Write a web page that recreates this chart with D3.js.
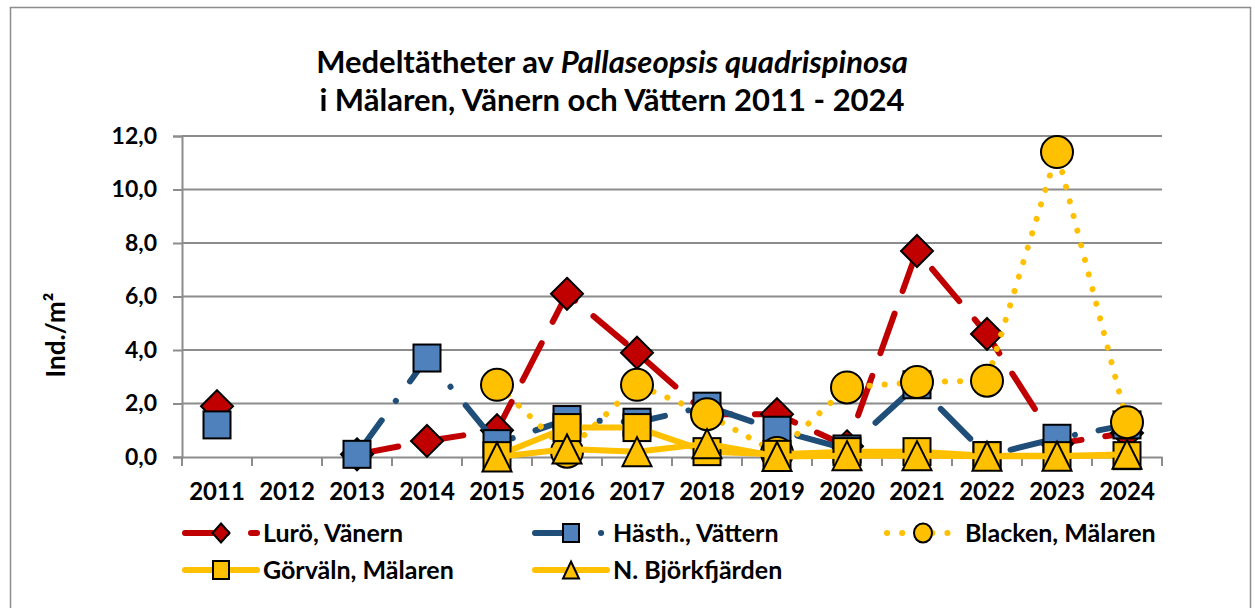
<!DOCTYPE html>
<html>
<head>
<meta charset="utf-8">
<script src="https://cdn.jsdelivr.net/npm/d3@7"></script>
<style>
  body { margin: 0; background: #fff; }
  svg { font-family: Lato, "Open Sans", sans-serif; font-weight: bold; }
</style>
</head>
<body>
<div id="chart"></div>
<script>
// data
var years = ["2011","2012","2013","2014","2015","2016","2017","2018","2019","2020","2021","2022","2023","2024"];
var luro    = [1.9, null, 0.1, 0.6, 1.0, 6.1, 3.9, 1.6, 1.6, 0.4, 7.7, 4.6, 0.5, 0.9];
var hasth   = [1.2, null, 0.1, 3.7, 0.5, 1.4, 1.3, 1.9, 1.0, 0.3, 2.7, 0.05, 0.7, 1.2];
var blacken = [null, null, null, null, 2.7, 0.2, 2.7, 1.6, 0.15, 2.6, 2.8, 2.85, 11.4, 1.3];
var gorvaln = [null, null, null, null, 0.05, 1.1, 1.1, 0.2, 0.1, 0.2, 0.2, 0.05, 0.05, 0.05];
var bjork   = [null, null, null, null, 0.0, 0.3, 0.2, 0.5, 0.02, 0.05, 0.05, 0.03, 0.03, 0.1];
var yTicks = [0, 2, 4, 6, 8, 10, 12];

var series = [
  {name: "Lurö, Vänern",      values: luro,    line: "#C00000", fill: "#C00000", marker: "diamond", dash: "42 24"},
  {name: "Hästh., Vättern",   values: hasth,   line: "#1F4E79", fill: "#4F81BD", marker: "square",  dash: "42 24 0.1 24"},
  {name: "Blacken, Mälaren",  values: blacken, line: "#FFC000", fill: "#FFC000", marker: "circle",  dash: "0.1 15"},
  {name: "Görväln, Mälaren",  values: gorvaln, line: "#FFC000", fill: "#FFC000", marker: "square",  dash: null},
  {name: "N. Björkfjärden",   values: bjork,   line: "#FFC000", fill: "#FFC000", marker: "triangle",dash: null}
];

var W = 1255, H = 608;
var margin = {top: 136, left: 182, right: 93, bottom: 151};
var width = W - margin.left - margin.right,
    height = H - margin.top - margin.bottom;

var svg = d3.select("#chart").append("svg")
    .attr("width", W)
    .attr("height", H);

// chart border
svg.append("rect")
    .attr("x", 10.5).attr("y", 7.5)
    .attr("width", 1240).attr("height", 640)
    .attr("fill", "none")
    .attr("stroke", "#8c8c8c")
    .attr("stroke-width", 1.5);

// title
var title = svg.append("text")
    .attr("x", 612)
    .attr("text-anchor", "middle")
    .attr("font-size", "31px");
var t1 = title.append("tspan").attr("x", 612).attr("y", 73);
t1.append("tspan").text("Medeltätheter av ");
t1.append("tspan").attr("font-style", "italic").text("Pallaseopsis quadrispinosa");
title.append("tspan").attr("x", 612).attr("y", 111).text("i Mälaren, Vänern och Vättern 2011 - 2024");

var g = svg.append("g")
    .attr("transform", "translate(" + margin.left + "," + margin.top + ")");

var x = d3.scaleBand().domain(years).range([0, width]).padding(0);
var y = d3.scaleLinear().domain([0, 12]).range([height, 0]);
var cx = function(i) { return x(years[i]) + x.bandwidth() / 2; };

// gridlines
g.append("g")
  .selectAll("line")
  .data(yTicks.filter(function(d) { return d > 0; }))
  .enter().append("line")
    .attr("x1", 0).attr("x2", width)
    .attr("y1", function(d) { return y(d); })
    .attr("y2", function(d) { return y(d); })
    .attr("stroke", "#8c8c8c")
    .attr("stroke-width", 2);

// y axis
var yAxis = g.append("g")
    .call(d3.axisLeft(y).tickValues(yTicks).tickSize(9).tickPadding(16)
      .tickFormat(function(d) { return d3.format(".1f")(d).replace(".", ","); }));
yAxis.select(".domain").attr("stroke", "#8c8c8c").attr("stroke-width", 2);
yAxis.selectAll(".tick line").attr("stroke", "#8c8c8c").attr("stroke-width", 2);
yAxis.selectAll("text").attr("font-size", "23px").attr("font-family", "Lato").attr("font-weight", "bold").attr("fill", "#000");

// x axis
var xAxis = g.append("g")
    .attr("transform", "translate(0," + height + ")")
    .call(d3.axisBottom(x).tickSize(0).tickPadding(26));
xAxis.select(".domain").attr("stroke", "#8c8c8c").attr("stroke-width", 2);
xAxis.selectAll("text").attr("font-size", "24px").attr("font-family", "Lato").attr("font-weight", "bold").attr("fill", "#000");
// category boundary ticks
var bounds = years.map(function(d) { return x(d); }).concat([width]);
xAxis.selectAll(".bound")
  .data(bounds)
  .enter().append("line")
    .attr("x1", function(d) { return d; })
    .attr("x2", function(d) { return d; })
    .attr("y1", 0).attr("y2", 9)
    .attr("stroke", "#8c8c8c")
    .attr("stroke-width", 2);

// y label
svg.append("text")
    .attr("transform", "translate(65,335) rotate(-90)")
    .attr("text-anchor", "middle")
    .attr("font-size", "26px")
    .text("Ind./m²");

// marker drawing
function drawMarker(sel, s, w, h) {
  var m;
  if (s.marker === "diamond") {
    m = sel.append("path").attr("d", "M0," + (-h/2) + "L" + (w/2) + ",0L0," + (h/2) + "L" + (-w/2) + ",0Z");
  } else if (s.marker === "square") {
    m = sel.append("rect").attr("x", -w/2).attr("y", -h/2).attr("width", w).attr("height", h);
  } else if (s.marker === "circle") {
    m = sel.append("ellipse").attr("rx", w/2).attr("ry", h/2);
  } else {
    m = sel.append("path").attr("d", "M0," + (-h/2) + "L" + (w/2) + "," + (h/2) + "L" + (-w/2) + "," + (h/2) + "Z");
  }
  m.attr("fill", s.fill).attr("stroke", "#000").attr("stroke-width", 2).attr("stroke-linejoin", "miter");
}

var markerSize = {diamond: [32, 32], square: [27, 27], circle: [32, 32], triangle: [29, 29]};

var line = d3.line()
    .defined(function(d) { return d != null; })
    .x(function(d, i) { return cx(i); })
    .y(function(d) { return y(d); });

series.forEach(function(s) {
  var sg = g.append("g");
  sg.append("path")
      .datum(s.values)
      .attr("d", line)
      .attr("fill", "none")
      .attr("stroke", s.line)
      .attr("stroke-width", 6)
      .attr("stroke-linecap", "round")
      .attr("stroke-linejoin", "round")
      .attr("stroke-dasharray", s.dash);
  s.values.forEach(function(v, i) {
    if (v == null) return;
    var mg = sg.append("g").attr("transform", "translate(" + cx(i) + "," + y(v) + ")");
    drawMarker(mg, s, markerSize[s.marker][0], markerSize[s.marker][1]);
  });
});

// legend
var legendPos = [
  {cx: 221, y: 533}, {cx: 571, y: 533}, {cx: 923, y: 533},
  {cx: 221, y: 570}, {cx: 571, y: 570}
];
var legendMarker = {diamond: [17, 19], square: [16, 18], circle: [18, 19], triangle: [16, 17]};
series.forEach(function(s, i) {
  var p = legendPos[i];
  var lg = svg.append("g");
  lg.append("line")
      .attr("x1", p.cx - 36).attr("x2", p.cx + 36)
      .attr("y1", p.y).attr("y2", p.y)
      .attr("stroke", s.line)
      .attr("stroke-width", 6)
      .attr("stroke-linecap", "round")
      .attr("stroke-dasharray", s.dash);
  var mg = lg.append("g").attr("transform", "translate(" + p.cx + "," + p.y + ")");
  drawMarker(mg, s, legendMarker[s.marker][0], legendMarker[s.marker][1]);
  lg.append("text")
      .attr("x", p.cx + 42)
      .attr("y", p.y + 9)
      .attr("font-size", "25px")
      .text(s.name);
});
</script>
</body>
</html>
